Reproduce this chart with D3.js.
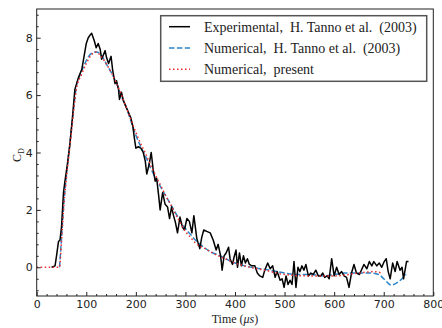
<!DOCTYPE html>
<html><head><meta charset="utf-8">
<script src="https://cdn.jsdelivr.net/npm/d3@7"></script>
<style>html,body{margin:0;padding:0;background:#fff;}svg{display:block;}</style>
</head><body>
<svg id="chart" width="442" height="328"></svg>
<script>
// ---- data ----
const expTime = [30,37,40,44,47,50,54,57,62,67,72,77,84,91,95,100,104,108,111,116,120,124,128,131,138,141,145,150,153,158,161,165,167,171,175,180,185,190,194,197,200,205,210,215,219,222,227,231,235,239,242,246,249,254,259,264,268,272,276,280,284,289,294,298,303,308,313,317,323,329,333,337,343,350,356,362,366,371,374,378,382,387,390,395,398,402,405,409,413,417,421,425,429,434,440,445,450,456,460,466,471,476,481,485,491,495,499,503,507,511,515,519,523,527,531,535,539,543,548,553,558,563,568,573,577,581,586,590,595,600,605,610,615,620,625,630,635,640,645,651,655,660,666,671,676,680,686,691,696,701,705,709,713,718,723,727,733,737,740,746,750];
const expCd   = [0.0,0.05,0.4,0.9,0.95,1.4,2.6,3.0,3.6,4.3,5.2,6.2,6.6,6.9,7.3,7.8,8.0,8.1,8.15,7.9,7.65,7.8,7.6,7.25,7.55,7.3,7.1,7.35,6.9,6.4,6.5,6.2,5.85,6.1,5.8,5.6,5.4,5.2,4.9,4.5,4.15,4.2,4.15,4.0,3.7,3.25,3.6,4.0,3.4,3.0,3.1,2.5,2.0,2.6,2.2,2.1,1.7,2.1,1.8,1.55,1.2,1.75,1.4,1.3,1.7,1.6,1.2,1.8,1.0,0.65,1.05,1.3,1.25,1.2,0.95,0.6,0.8,0.4,-0.1,0.4,0.5,0.7,0.3,0.1,0.35,0.6,0.0,0.5,0.05,0.4,0.15,0.3,0.1,0.05,0.05,-0.2,-0.3,-0.35,-0.1,0.15,-0.05,0.05,-0.35,-0.15,-0.45,-0.4,-0.7,-0.3,-0.6,-0.45,-0.6,0.2,-0.7,0.0,-0.15,0.05,-0.1,0.1,-0.3,-0.2,-0.25,-0.1,-0.3,-0.3,-0.2,-0.35,-0.3,-0.4,0.3,-0.3,0.0,-0.25,-0.15,-0.3,-0.35,-0.7,-0.2,0.1,-0.2,-0.25,-0.1,0.1,-0.05,0.2,0.05,0.2,0.05,0.15,0.0,0.2,0.3,-0.15,-0.4,0.15,-0.15,0.2,-0.1,0.0,-0.4,0.2,0.2];

const tannoTime = [46,50,55,60,65,70,75,80,90,100,110,120,130,140,150,160,170,180,190,200,210,220,230,240,250,260,270,280,290,300,310,320,330,350,370,400,420,450,470,500,520,550,580,600,620,650,670,690,700,715,730,745];
const tannoCd   = [0,1.0,2.3,3.2,4.0,4.8,5.6,6.3,6.8,7.2,7.45,7.5,7.4,7.1,6.8,6.45,6.0,5.6,5.1,4.6,4.2,3.85,3.45,3.1,2.8,2.5,2.2,1.9,1.6,1.35,1.15,0.95,0.8,0.55,0.4,0.15,0.05,-0.05,-0.1,-0.2,-0.25,-0.25,-0.3,-0.25,-0.2,-0.2,-0.2,-0.25,-0.4,-0.62,-0.5,-0.25];

const presTime = [0,46,50,55,60,70,80,90,100,110,120,130,140,150,160,170,180,190,200,210,220,230,240,250,260,270,280,290,300,310,320,340,360,380,400,430,460,500,550,600,650,680,696];
const presCd   = [0,0,0.9,2.2,3.1,4.7,6.2,6.7,7.1,7.4,7.5,7.35,7.1,6.8,6.45,6.05,5.6,5.15,4.7,4.3,3.95,3.55,3.2,2.85,2.5,2.2,1.85,1.55,1.25,1.05,0.85,0.65,0.45,0.3,0.15,0.0,-0.1,-0.25,-0.3,-0.3,-0.2,-0.15,-0.2];

const xTicks = [0,100,200,300,400,500,600,700,800];
const yTicks = [0,2,4,6,8];
const legendLabels = ["Experimental,  H. Tanno et al.  (2003)", "Numerical,  H. Tanno et al.  (2003)", "Numerical,  present"];

// ---- layout ----
const svg = d3.select("#chart");
const L = 36.7, R = 433.3, T = 9, B = 296;
const x = d3.scaleLinear().domain([0, 800]).range([L, R]);
const y = d3.scaleLinear().domain([-1, 9]).range([B, T]);

const blue = "#2b85c8", red = "#ee2b2b";
const SERIF = "Liberation Serif, DejaVu Serif, Times New Roman, Times, serif";

svg.append("clipPath").attr("id","pc").append("rect")
  .attr("x", L).attr("y", T).attr("width", R-L).attr("height", B-T);

const line = d3.line().x(d => x(d[0])).y(d => y(d[1]));
const g = svg.append("g").attr("clip-path","url(#pc)");

g.append("path").datum(tannoTime.map((t,i)=>[t,tannoCd[i]])).attr("d", line.curve(d3.curveMonotoneX))
  .attr("fill","none").attr("stroke",blue).attr("stroke-width",1.5).attr("stroke-dasharray","5.5,2.4");
g.append("path").datum(expTime.map((t,i)=>[t, expCd[i]])).attr("d", line.curve(d3.curveLinear))
  .attr("fill","none").attr("stroke","#000").attr("stroke-width",1.5).attr("stroke-linejoin","round");
g.append("path").datum(presTime.map((t,i)=>[t,presCd[i]])).attr("d", line.curve(d3.curveMonotoneX))
  .attr("fill","none").attr("stroke",red).attr("stroke-width",1.5).attr("stroke-dasharray","1.5,2.5");

// axes
const xAxis = svg.append("g").attr("transform",`translate(0,${B})`)
  .call(d3.axisBottom(x).tickValues(xTicks).tickSize(-4).tickPadding(4).tickFormat(d3.format("d")));
const xMinor = svg.append("g").attr("transform",`translate(0,${B})`)
  .call(d3.axisBottom(x).tickValues(d3.range(0,801,20).filter(v=>v%100!==0)).tickSize(-2).tickFormat(""));
const yAxis = svg.append("g").attr("transform",`translate(${L},0)`)
  .call(d3.axisLeft(y).tickValues(yTicks).tickSize(-4).tickPadding(4).tickFormat(d3.format("d")));
const yMinor = svg.append("g").attr("transform",`translate(${L},0)`)
  .call(d3.axisLeft(y).tickValues([-0.8,-0.4,0.4,0.8,1.2,1.6,2.4,2.8,3.2,3.6,4.4,4.8,5.2,5.6,6.4,6.8,7.2,7.6,8.4,8.8]).tickSize(-2).tickFormat(""));
[xAxis,xMinor,yAxis,yMinor].forEach(a=>{
  a.attr("font-family","DejaVu Sans").attr("font-size",11);
  a.select(".domain").remove();
  a.selectAll("line").attr("stroke","#222").attr("stroke-width",1);
  a.selectAll("text").attr("fill","#222");
});

svg.append("rect").attr("x",L).attr("y",T).attr("width",R-L).attr("height",B-T)
  .attr("fill","none").attr("stroke","#222").attr("stroke-width",1);

// axis labels
const xl = svg.append("text").style("font-family",SERIF).attr("x", 235).attr("y", 323).attr("text-anchor","middle")
  .style("font-size","12px").attr("fill","#222");
xl.append("tspan").text("Time (");
xl.append("tspan").style("font-style","italic").text("μs");
xl.append("tspan").text(")");
const yl = svg.append("text").style("font-family",SERIF).attr("transform","translate(21,155) rotate(-90)").attr("text-anchor","middle")
  .style("font-size","12px").attr("fill","#222");
yl.append("tspan").text("C");
yl.append("tspan").style("font-size","8px").attr("dy",2.5).text("D");

// legend
const lg = svg.append("g");
lg.append("rect").attr("x",160.7).attr("y",15.7).attr("width",266).attr("height",65.6)
  .attr("fill","#fff").attr("stroke","#555").attr("stroke-width",1.5);
const styles = [{c:"#000",d:null},{c:blue,d:"5.5,2.4"},{c:red,d:"1.5,2.5"}];
const rowsY = [26.7, 48, 69.3];
legendLabels.forEach((lab,i)=>{
  lg.append("line").attr("x1",169).attr("x2",190).attr("y1",rowsY[i]).attr("y2",rowsY[i])
    .attr("stroke",styles[i].c).attr("stroke-width",1.5).attr("stroke-dasharray",styles[i].d);
  lg.append("text").style("font-family",SERIF).attr("x",204).attr("y",rowsY[i]).attr("dy","0.35em")
    .style("font-size","14px").style("white-space","pre").attr("fill","#222").text(lab);
});
</script>
</body></html>
